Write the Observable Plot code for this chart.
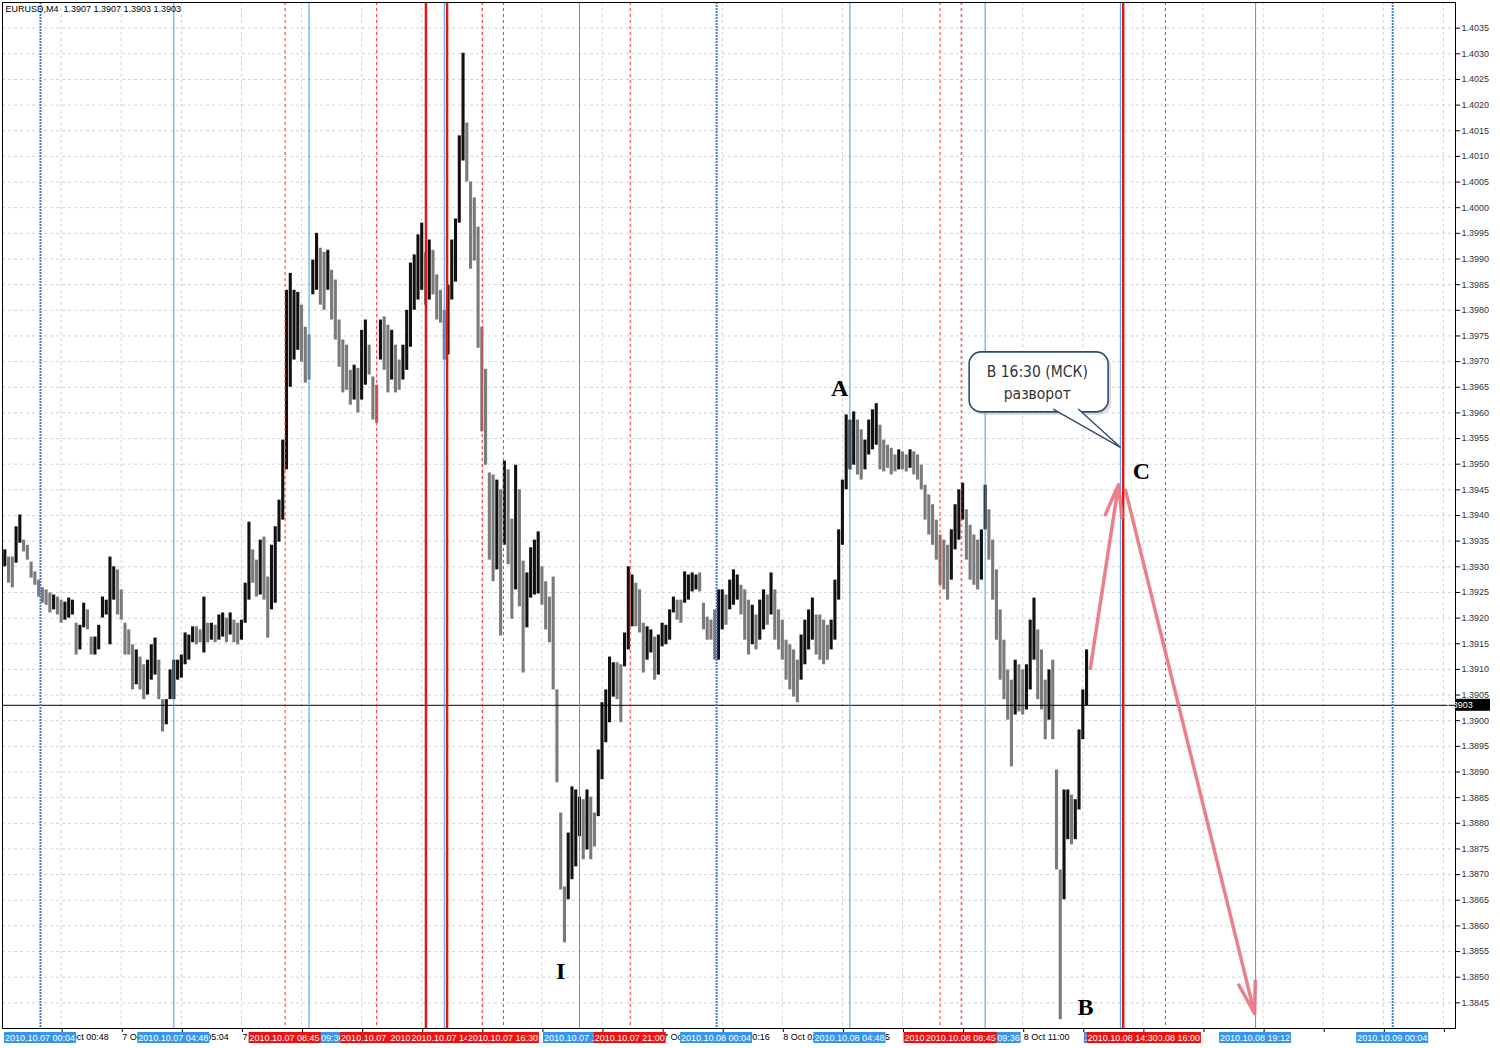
<!DOCTYPE html>
<html><head><meta charset="utf-8">
<script src="https://cdn.jsdelivr.net/npm/d3@7"></script>
<script src="https://cdn.jsdelivr.net/npm/@observablehq/plot@0.6"></script>
<style>body{margin:0;background:#fff;}</style>
</head><body><div id="chart"></div>
<script>
// ---- DATA (time = minutes from 2010.10.07 00:00, 8-minute bars) ----
const startMinute = -72;
const stepMinutes = 8;
const highs = [
1.39333,1.39319,1.39319,1.39378,1.39401,1.39352,1.39342,1.39309,1.39290,1.39274,
1.39259,1.39255,1.39249,1.39245,1.39241,1.39235,1.39231,1.39239,1.39235,1.39190,
1.39186,1.39229,1.39216,1.39163,1.39163,1.39186,1.39241,1.39235,1.39319,1.39300,
1.39294,1.39255,1.39190,1.39177,1.39148,1.39138,1.39124,1.39109,1.39118,1.39148,
1.39161,1.39118,1.39041,1.39041,1.39099,1.39118,1.39118,1.39128,1.39171,1.39167,
1.39183,1.39183,1.39177,1.39241,1.39190,1.39190,1.39186,1.39206,1.39210,1.39200,
1.39210,1.39196,1.39190,1.39196,1.39268,1.39387,1.39333,1.39313,1.39352,1.39358,
1.39280,1.39342,1.39378,1.39430,1.39547,1.39839,1.39872,1.39839,1.39835,1.39810,
1.39767,1.39752,1.39898,1.39950,1.39921,1.39913,1.39917,1.39878,1.39859,1.39781,
1.39742,1.39732,1.39683,1.39693,1.39687,1.39761,1.39781,1.39732,1.39670,1.39654,
1.39781,1.39787,1.39771,1.39761,1.39732,1.39703,1.39732,1.39800,1.39892,1.39908,
1.39947,1.39970,1.39912,1.39937,1.39917,1.39869,1.39839,1.39800,1.39849,1.39937,
1.39978,1.40140,1.40301,1.40165,1.40050,1.40019,1.39962,1.39767,1.39685,1.39483,
1.39479,1.39469,1.39450,1.39506,1.39489,1.39393,1.39498,1.39450,1.39311,1.39288,
1.39337,1.39352,1.39368,1.39300,1.39271,1.39241,1.39280,1.39060,1.38820,1.38676,
1.38781,1.38871,1.38865,1.38851,1.38846,1.38865,1.38851,1.38820,1.38943,1.39035,
1.39060,1.39124,1.39113,1.39113,1.39109,1.39171,1.39300,1.39284,1.39268,1.39255,
1.39190,1.39183,1.39177,1.39163,1.39167,1.39190,1.39186,1.39216,1.39241,1.39235,
1.39235,1.39290,1.39284,1.39288,1.39284,1.39288,1.39229,1.39202,1.39196,1.39216,
1.39255,1.39255,1.39245,1.39274,1.39294,1.39284,1.39264,1.39255,1.39235,1.39225,
1.39206,1.39235,1.39255,1.39245,1.39288,1.39255,1.39216,1.39196,1.39157,1.39148,
1.39138,1.39118,1.39167,1.39196,1.39216,1.39239,1.39206,1.39206,1.39196,1.39186,
1.39196,1.39274,1.39372,1.39469,1.39596,1.39586,1.39602,1.39586,1.39567,1.39547,
1.39586,1.39606,1.39618,1.39576,1.39547,1.39537,1.39531,1.39518,1.39528,1.39524,
1.39518,1.39528,1.39524,1.39518,1.39498,1.39459,1.39440,1.39421,1.39391,1.39362,
1.39352,1.39342,1.39372,1.39421,1.39450,1.39463,1.39411,1.39381,1.39362,1.39352,
1.39372,1.39459,1.39411,1.39352,1.39294,1.39216,1.39157,1.39099,1.39079,1.39118,
1.39109,1.39099,1.39109,1.39196,1.39239,1.39177,1.39138,1.39079,1.39099,1.39118,
1.38904,1.38709,1.38865,1.38865,1.38855,1.38846,1.38982,1.39060,1.39138];
const lows = [
1.39300,1.39268,1.39259,1.39307,1.39346,1.39329,1.39313,1.39278,1.39264,1.39241,
1.39229,1.39225,1.39210,1.39216,1.39206,1.39190,1.39196,1.39200,1.39206,1.39128,
1.39138,1.39181,1.39177,1.39128,1.39128,1.39138,1.39200,1.39206,1.39148,1.39235,
1.39206,1.39196,1.39128,1.39128,1.39060,1.39070,1.39060,1.39041,1.39050,1.39079,
1.39089,1.39041,1.38978,1.38992,1.39041,1.39041,1.39079,1.39083,1.39109,1.39118,
1.39152,1.39148,1.39152,1.39132,1.39152,1.39157,1.39152,1.39157,1.39163,1.39152,
1.39167,1.39152,1.39148,1.39157,1.39190,1.39235,1.39268,1.39241,1.39245,1.39235,
1.39161,1.39216,1.39229,1.39348,1.39391,1.39489,1.39650,1.39703,1.39722,1.39699,
1.39658,1.39664,1.39830,1.39839,1.39810,1.39800,1.39839,1.39781,1.39742,1.39689,
1.39639,1.39644,1.39615,1.39625,1.39600,1.39625,1.39654,1.39674,1.39586,1.39580,
1.39703,1.39683,1.39639,1.39664,1.39639,1.39644,1.39664,1.39683,1.39728,1.39800,
1.39820,1.39839,1.39810,1.39820,1.39830,1.39781,1.39775,1.39703,1.39713,1.39820,
1.39855,1.39970,1.40091,1.40050,1.39880,1.39896,1.39726,1.39563,1.39498,1.39313,
1.39271,1.39294,1.39165,1.39342,1.39304,1.39198,1.39255,1.39222,1.39093,1.39181,
1.39239,1.39245,1.39247,1.39225,1.39177,1.39152,1.39060,1.38879,1.38670,1.38567,
1.38651,1.38690,1.38715,1.38774,1.38729,1.38748,1.38729,1.38754,1.38813,1.38885,
1.38957,1.38996,1.39046,1.39041,1.38996,1.39105,1.39138,1.39183,1.39183,1.39171,
1.39093,1.39118,1.39132,1.39079,1.39089,1.39144,1.39148,1.39157,1.39210,1.39196,
1.39190,1.39229,1.39235,1.39251,1.39255,1.39251,1.39177,1.39157,1.39157,1.39118,
1.39118,1.39177,1.39186,1.39216,1.39225,1.39235,1.39206,1.39157,1.39128,1.39148,
1.39138,1.39157,1.39177,1.39186,1.39206,1.39157,1.39138,1.39118,1.39079,1.39060,
1.39046,1.39035,1.39079,1.39109,1.39138,1.39157,1.39128,1.39118,1.39109,1.39118,
1.39138,1.39157,1.39235,1.39342,1.39450,1.39489,1.39498,1.39479,1.39469,1.39489,
1.39518,1.39528,1.39537,1.39489,1.39485,1.39492,1.39479,1.39485,1.39489,1.39489,
1.39485,1.39492,1.39479,1.39469,1.39450,1.39391,1.39362,1.39342,1.39313,1.39264,
1.39255,1.39235,1.39274,1.39333,1.39352,1.39391,1.39313,1.39274,1.39264,1.39255,
1.39274,1.39372,1.39313,1.39235,1.39157,1.39079,1.39041,1.39001,1.38910,1.39011,
1.39017,1.39011,1.39021,1.39060,1.39118,1.39041,1.39021,1.38963,1.39001,1.38963,
1.38709,1.38417,1.38651,1.38768,1.38758,1.38768,1.38826,1.38963,1.39029];
const lastPrice = 1.3903;
const headerText = "EURUSD,M4  1.3907 1.3907 1.3903 1.3903";

const yTicks = [1.3845,1.3850,1.3855,1.3860,1.3865,1.3870,1.3875,1.3880,1.3885,1.3890,1.3895,1.3900,1.3905,1.3910,1.3915,1.3920,1.3925,1.3930,1.3935,1.3940,1.3945,1.3950,1.3955,1.3960,1.3965,1.3970,1.3975,1.3980,1.3985,1.3990,1.3995,1.4000,1.4005,1.4010,1.4015,1.4020,1.4025,1.4030,1.4035];
const xTickTimes = [48,176,304,432,560,688,816,944,1072,1200,1328,1456,1584,1712,1840,1968,2096,2224,2352,2480,2608,2736,2864,2992];
const xTickLabels = ["7 Oct 00:48","7 Oct 02:56","7 Oct 05:04","7 Oct 07:12","7 Oct 09:20","7 Oct 11:28","7 Oct 13:36","7 Oct 15:44","7 Oct 17:52","7 Oct 20:00","7 Oct 22:08","8 Oct 00:16","8 Oct 02:24","8 Oct 04:35","8 Oct 06:40","8 Oct 08:48","8 Oct 11:00"];

const blueDayTimes = [4, 1444, 2884];
const blueLineTimes = [288, 576, 864, 1152, 1728, 2016, 2304, 2592];
const redDashTimes = [525, 720, 945, 990, 1260, 1920, 1965, 2400];
const redThickTimes = [825, 870, 2310];

const blueLabelTimes = [4, 288, 576, 864, 1152, 1444, 1728, 2016, 2304, 2592, 2884];
const blueLabelTexts = ["2010.10.07 00:04","2010.10.07 04:48","2010.10.07 09:36","2010.10.07 14:24","2010.10.07 19:12","2010.10.08 00:04","2010.10.08 04:48","2010.10.08 09:36","2010.10.08 14:24","2010.10.08 19:12","2010.10.09 00:04"];
const redLabelTimes = [525, 945, 720, 825, 870, 990, 1260, 1920, 1965, 2400, 2310];
const redLabelTexts = ["2010.10.07 08:45","2010.10.07 15:45","2010.10.07 12:00","2010.10.07 13:45","2010.10.07 14:30","2010.10.07 16:30","2010.10.07 21:00","2010.10.08 08:00","2010.10.08 08:45","2010.10.08 16:00","2010.10.08 14:30"];

const pointLabels = ["A", "I", "B", "C"];
const pointTimes = [1706, 1112, 2230, 2349];
const pointPrices = [1.39648, 1.38511, 1.38441, 1.39486];

const calloutLines = ["В 16:30 (МСК)", "разворот"];
const calloutLineTimes = [2127, 2127];
const calloutLinePrices = [1.39679, 1.39636];
const calloutBox = {t1: 1983, t2: 2279, p1: 1.39601, p2: 1.39718};
const calloutTailTimes = [2162, 2304, 2215];
const calloutTailPrices = [1.39607, 1.39533, 1.39607];

const arrowStartTimes = [2240, 2315];
const arrowStartPrices = [1.39102, 1.39449];
const arrowEndTimes = [2300, 2590];
const arrowEndPrices = [1.39460, 1.38429];

// ---- build tables ----
const bars = highs.map((h, i) => ({t: startMinute + i * stepMinutes, high: h, low: lows[i]}));
bars.forEach((b, i) => {
  const mid = (b.high + b.low) / 2;
  const prev = i ? (bars[i - 1].high + bars[i - 1].low) / 2 : mid;
  b.up = mid >= prev;
});
const tickLabelMap = new Map(xTickTimes.map((t, i) => [t, xTickLabels[i] ?? ""]));
const points = pointLabels.map((l, i) => ({label: l, t: pointTimes[i], p: pointPrices[i]}));
const cLines = calloutLines.map((s, i) => ({s, t: calloutLineTimes[i], p: calloutLinePrices[i]}));
const tail = calloutTailTimes.map((t, i) => ({t, p: calloutTailPrices[i]}));
const arrows = arrowStartTimes.map((t, i) => ({x1: t, y1: arrowStartPrices[i], x2: arrowEndTimes[i], y2: arrowEndPrices[i]}));

const font = "'Liberation Sans', Arial, sans-serif";
const plot = Plot.plot({
  width: 1500, height: 1048,
  marginLeft: 2, marginRight: 45, marginTop: 2, marginBottom: 20,
  x: {domain: [-76.9, 3017.8], axis: null},
  y: {domain: [1.3840, 1.4040], axis: null},
  style: {fontFamily: font, fontSize: "9px", background: "white", overflow: "visible"},
  marks: [
    Plot.gridY(yTicks, {stroke: "#d2d2d2", strokeOpacity: 1, strokeDasharray: "3,3"}),
    Plot.gridX(xTickTimes, {stroke: "#d2d2d2", strokeOpacity: 1, strokeDasharray: "3,3"}),
    Plot.ruleX(bars, {x: "t", y1: "low", y2: "high", stroke: d => d.up ? "#111" : "#7a7a7a", strokeWidth: 3.1}),
    Plot.ruleY([lastPrice], {stroke: "black", strokeWidth: 1}),
    Plot.ruleX(blueDayTimes, {stroke: "#3f7fcf", strokeWidth: 2, strokeDasharray: "2,1"}),
    Plot.ruleX(blueLineTimes, {stroke: "#3b9ef2", strokeWidth: 1}),
    Plot.ruleX(redDashTimes, {stroke: "#ff2b2b", strokeWidth: 1, strokeDasharray: "3,3"}),
    Plot.ruleX(redThickTimes, {stroke: "#e51515", strokeWidth: 2.5}),
    Plot.frame({stroke: "black"}),
    Plot.axisY(yTicks, {anchor: "right", tickSize: 4, tickPadding: 2, tickFormat: d => d.toFixed(4), label: null, fill: "#333", fontSize: 9}),
    Plot.axisX(xTickTimes, {anchor: "bottom", tickSize: 4, tickPadding: 1, tickFormat: d => tickLabelMap.get(d) ?? "", textAnchor: "start", dx: 1, label: null, fill: "black", fontSize: 9}),
    Plot.text([headerText], {frameAnchor: "top-left", dx: 3, dy: 3, textAnchor: "start", lineAnchor: "top", fontSize: 9, fill: "black"}),
    Plot.arrow(arrows, {x1: "x1", y1: "y1", x2: "x2", y2: "y2", stroke: "#e8727c", strokeWidth: 3.5, strokeOpacity: 0.9, headLength: 14, headAngle: 30}),
    Plot.rect([calloutBox], {x1: "t1", x2: "t2", y1: "p1", y2: "p2", rx: 12, fill: "#9a9a9a", fillOpacity: 0.35, dx: 3, dy: 3}),
    Plot.rect([calloutBox], {x1: "t1", x2: "t2", y1: "p1", y2: "p2", rx: 12, fill: "white", stroke: "#2f4d70", strokeWidth: 1.6}),
    Plot.line(tail, {x: "t", y: "p", fill: "white", stroke: "#2f4d70", strokeWidth: 1.4, curve: "linear"}),
    Plot.text(cLines, {x: "t", y: "p", text: "s", fontSize: 15.5, fill: "#333", fontFamily: "'Liberation Sans Narrow','DejaVu Sans Condensed',sans-serif"}),
    Plot.text(points, {x: "t", y: "p", text: "label", fontSize: 24, fontWeight: "bold", fill: "black", fontFamily: "'Liberation Serif','DejaVu Serif',serif"})
  ]
});

// bottom object labels and price tag, positioned with Plot's scales
const sx = plot.scale("x"), sy = plot.scale("y");
const svg = d3.select(plot);
function addLabels(times, texts, color) {
  const g = svg.append("g");
  times.forEach((t, i) => {
    const X = sx.apply(t);
    g.append("rect").attr("x", X - 36).attr("y", 1032).attr("width", 72).attr("height", 11).attr("fill", color);
    g.append("text").attr("x", X).attr("y", 1041).attr("text-anchor", "middle").attr("fill", "white")
      .attr("font-size", 9).attr("font-family", font).text(texts[i]);
  });
}
addLabels(blueLabelTimes, blueLabelTexts, "#3796ea");
addLabels(redLabelTimes, redLabelTexts, "#ee1111");
const yP = sy.apply(lastPrice);
const tag = svg.append("g");
tag.append("rect").attr("x", 1456).attr("y", yP - 6).attr("width", 34).attr("height", 12).attr("fill", "black");
tag.append("text").attr("x", 1459).attr("y", yP + 3.5).attr("fill", "white").attr("font-size", 9).attr("font-family", font).text(lastPrice.toFixed(4));

document.getElementById("chart").appendChild(plot);
</script>
</body></html>
